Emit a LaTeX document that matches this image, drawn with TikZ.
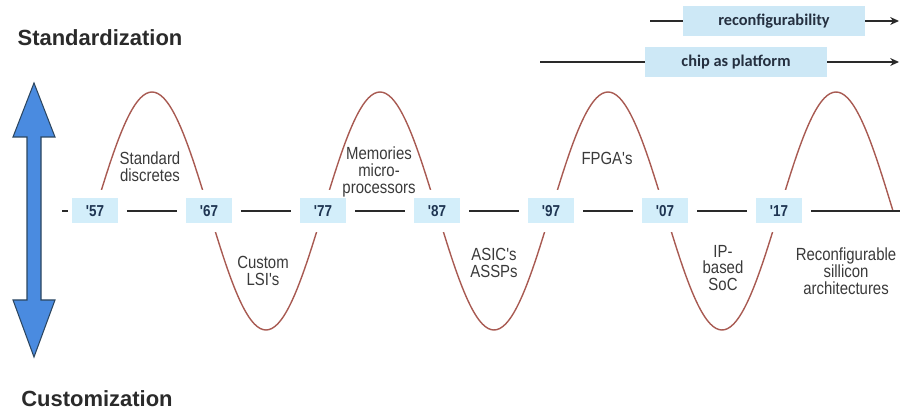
\documentclass[tikz,border=0pt]{standalone}
\usepackage{fontspec}
\setmainfont{Liberation Sans}
\newfontfamily\condfont[FakeStretch=0.85]{Liberation Sans}
\newfontfamily\tagfont{Carlito}
\usetikzlibrary{arrows.meta}

\definecolor{evArrowFill}{HTML}{4A8BE0}
\definecolor{evArrowStroke}{HTML}{2C4660}
\definecolor{evYearFill}{HTML}{D3EEFA}
\definecolor{evYearText}{HTML}{1E3552}
\definecolor{evWave}{HTML}{A85A52}
\definecolor{evTagFill}{HTML}{CDE8F6}
\definecolor{evTagText}{HTML}{253040}
\definecolor{evGrey}{HTML}{2A2A2A}
\definecolor{evLabel}{HTML}{3A3A3A}

\begin{document}
\begin{tikzpicture}[x=0.02cm,y=-0.02cm,
  heading/.style={font=\fontsize{12.5}{14}\selectfont\bfseries,text=evGrey},
  era/.style={align=center,text=evLabel,font=\condfont\fontsize{10}{9.6}\selectfont},
  year/.style={fill=evYearFill,draw=white,line width=0.18cm,minimum width=1.1cm,
    minimum height=0.68cm,inner sep=0pt,text=evYearText,font=\condfont\fontsize{9}{10}\selectfont\bfseries},
  tag/.style={fill=evTagFill,minimum width=3.64cm,minimum height=0.6cm,inner sep=0pt,
    text=evTagText,font=\tagfont\fontsize{9.3}{11}\selectfont\bfseries},
  lead/.style={evGrey,line width=0.7pt},
  tip/.style={-{Stealth[length=5pt,width=4.5pt]}}]
  \useasboundingbox (0,0) rectangle (901,411);

  % ---- headings ----
  \node[heading] (stdz) at (100,38)  {Standardization};
  \node[heading] (cust) at (97,399)  {Customization};

  % ---- double arrow ----
  \filldraw[fill=evArrowFill,draw=evArrowStroke,line width=0.6pt]
    (34,83) -- (55,137) -- (41,137) -- (41,300) -- (55,300) -- (34,357)
    -- (13,300) -- (27,300) -- (27,137) -- (13,137) -- cycle;

  % ---- wave ----
  \draw[evWave,line width=0.8pt] plot[domain=0:7,samples=281,smooth]
    ({95+114*\x},{211-119*sin(180*\x)});

  % ---- year boxes on the time line ----
  \foreach \yr [count=\i from 0] in {57,67,77,87,97,07,17}
    \node[year] (y\yr) at ({95+114*\i},211) {'\yr};

  \coordinate (lstart) at (62,211);
  \coordinate (lend)   at (900,211);
  \draw[lead,shorten >=-0.1cm] (lstart) -- (y57);
  \foreach \a/\b in {57/67,67/77,77/87,87/97,97/07,07/17}
    \draw[lead] (y\a) -- (y\b);
  \draw[lead] (y17) -- (lend);

  % ---- eras ----
  \node[era] (discretes) at (150,167) {Standard\\discretes};
  \node[era] (memories)  at (379,172) {Memories\\micro-\\processors};
  \node[era] (fpga)      at (607,158) {FPGA's};
  \node[era] (lsi)       at (263,271) {Custom\\LSI's};
  \node[era] (asic)      at (494,263) {ASIC's\\ASSPs};
  \node[era] (soc)       at (723,268) {IP-\\based\\SoC};
  \node[era] (reconsil)  at (846,271) {Reconfigurable\\sillicon\\architectures};

  % ---- trends ----
  \node[tag] (reconf) at (774,21) {reconfigurability};
  \node[tag] (chip)   at (736,62) {chip as platform};
  \coordinate (reconfL) at (650,21);
  \coordinate (reconfR) at (899,21);
  \coordinate (chipL)   at (540,62);
  \coordinate (chipR)   at (899,62);
  \draw[lead] (reconfL) -- (reconf);
  \draw[lead,tip] (reconf) -- (reconfR);
  \draw[lead] (chipL) -- (chip);
  \draw[lead,tip] (chip) -- (chipR);
\end{tikzpicture}
\end{document}
